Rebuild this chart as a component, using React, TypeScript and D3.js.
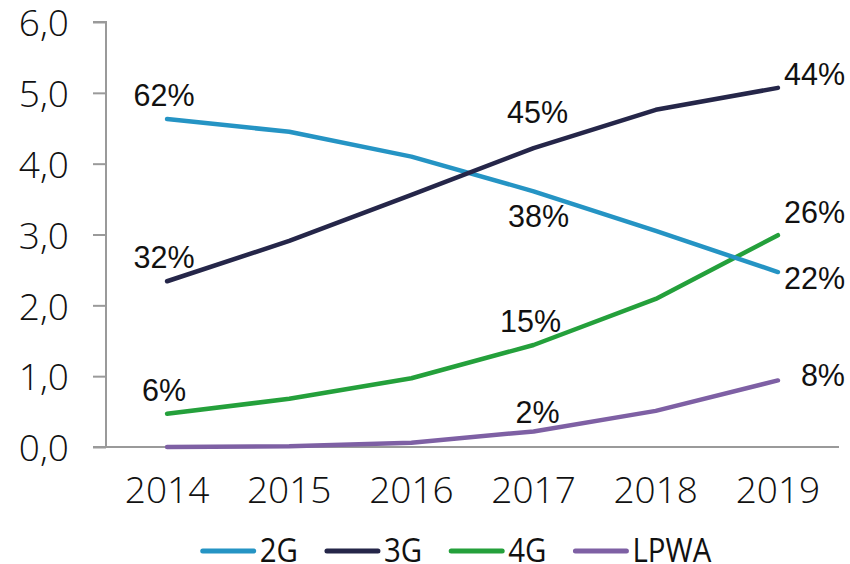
import React, { useEffect, useRef } from "react";
import * as d3 from "d3";

const years = ["2014", "2015", "2016", "2017", "2018", "2019"];
const seriesNames = ["2G", "3G", "4G", "LPWA"];
const seriesColors = ["#2594c4", "#252649", "#24a03b", "#7e60a4"];
const values2G = [4.63, 4.45, 4.1, 3.61, 3.05, 2.47];
const values3G = [2.34, 2.91, 3.56, 4.22, 4.76, 5.07];
const values4G = [0.47, 0.68, 0.97, 1.44, 2.09, 2.99];
const valuesLPWA = [0.0, 0.01, 0.06, 0.22, 0.51, 0.94];
const yTicks = [0, 1, 2, 3, 4, 5, 6];

// data labels: series index, year index, text, placement
const labelSeries = [0, 1, 2, 1, 0, 2, 3, 1, 2, 0, 3];
const labelYear = [0, 0, 0, 3, 3, 3, 3, 5, 5, 5, 5];
const labelText = ["62%", "32%", "6%", "45%", "38%", "15%", "2%", "44%", "26%", "22%", "8%"];
const labelPlace = ["above", "above", "above", "aboveFar", "below", "above", "aboveNear", "rightUp", "rightUpFar", "rightDown", "right"];

export default function App() {
  const ref = useRef<SVGSVGElement>(null);
  useEffect(() => {
    const svg = d3.select(ref.current);
    svg.selectAll("*").remove();
    const left = 106, right = 839, top = 22, bottom = 447;
    const x = d3.scaleBand().domain(years).range([left, right]);
    const y = d3.scaleLinear().domain([0, 6]).range([bottom, top]);
    const cx = (i: number) => (x(years[i]) as number) + x.bandwidth() / 2;
    const allValues = [values2G, values3G, values4G, valuesLPWA];

    // axes
    const yAxis = svg.append("g").attr("transform", `translate(${left},0)`)
      .call(d3.axisLeft(y).tickValues(yTicks).tickSize(13).tickPadding(0)
        .tickFormat((d: any) => d3.format(".1f")(d).replace(".", ",")));
    yAxis.select(".domain").attr("stroke", "#9a9a9a").attr("stroke-width", 2).attr("d", `M-13,${top}H0V${bottom}`);
    yAxis.selectAll(".tick line").attr("stroke", "#9a9a9a").attr("stroke-width", 2);
    yAxis.selectAll(".tick text")
      .attr("x", -37).attr("dy", "0.37em")
      .attr("font-family", "'Open Sans', sans-serif").attr("font-weight", 300)
      .attr("font-size", 37).attr("fill", "#111");

    svg.append("line").attr("x1", left - 13).attr("x2", right).attr("y1", bottom).attr("y2", bottom)
      .attr("stroke", "#9a9a9a").attr("stroke-width", 2);

    svg.append("g").selectAll("text").data(years).join("text")
      .attr("x", (_d, i) => cx(i)).attr("y", 503).attr("text-anchor", "middle")
      .attr("font-family", "'Open Sans', sans-serif").attr("font-weight", 300)
      .attr("font-size", 37).attr("fill", "#111")
      .text((d) => d);

    // lines
    const line = d3.line<number>().x((_d, i) => cx(i)).y((d) => y(d)).curve(d3.curveLinear);
    [3, 2, 0, 1].forEach((s) => {
      svg.append("path").attr("d", line(allValues[s]) as string).attr("fill", "none")
        .attr("stroke", seriesColors[s]).attr("stroke-width", 4.5)
        .attr("stroke-linecap", "round").attr("stroke-linejoin", "round");
    });

    // data labels
    labelText.forEach((t, k) => {
      const px = cx(labelYear[k]);
      const py = y(allValues[labelSeries[k]][labelYear[k]]);
      const p = labelPlace[k];
      let tx = px - 3, ty = py, anchor = "middle";
      if (p === "above") { ty = py - 13; }
      else if (p === "aboveNear") { tx = px + 4; ty = py - 8; }
      else if (p === "aboveFar") { tx = px + 4; ty = py - 25; }
      else if (p === "below") { tx = px + 5; ty = py + 36; }
      else {
        tx = right + 6; anchor = "end";
        if (p === "rightUp") ty = py - 3;
        else if (p === "rightUpFar") ty = py - 12;
        else if (p === "rightDown") ty = py + 17;
        else ty = py + 6;
      }
      svg.append("text").attr("x", tx).attr("y", ty).attr("text-anchor", anchor)
        .attr("font-family", "'Liberation Sans', Arial, sans-serif").attr("font-size", 30.5)
        .attr("fill", "#111").text(t);
    });

    // legend
    const lg = svg.append("g");
    let cur = 0;
    const gap = 27;
    seriesNames.forEach((n, i) => {
      const g = lg.append("g").attr("transform", `translate(${cur},0)`);
      g.append("line").attr("x1", 2).attr("x2", 53).attr("y1", 0).attr("y2", 0)
        .attr("stroke", seriesColors[i]).attr("stroke-width", 5).attr("stroke-linecap", "round");
      const t = g.append("text").attr("x", 0).attr("y", 0)
        .attr("transform", "translate(59,10.5) scale(0.92,1)")
        .attr("font-family", "'Open Sans', sans-serif")
        .attr("font-size", 32).attr("fill", "#111").text(n);
      const w = (t.node() as SVGTextElement).getComputedTextLength() * 0.92;
      cur += 59 + w + gap;
    });
    const total = cur - gap;
    lg.attr("transform", `translate(${456 - total / 2},551)`);
  }, []);
  return (
    <svg ref={ref} width={850} height={564}
      style={{ position: "absolute", left: 0, top: 0, background: "#fff" }} />
  );
}
